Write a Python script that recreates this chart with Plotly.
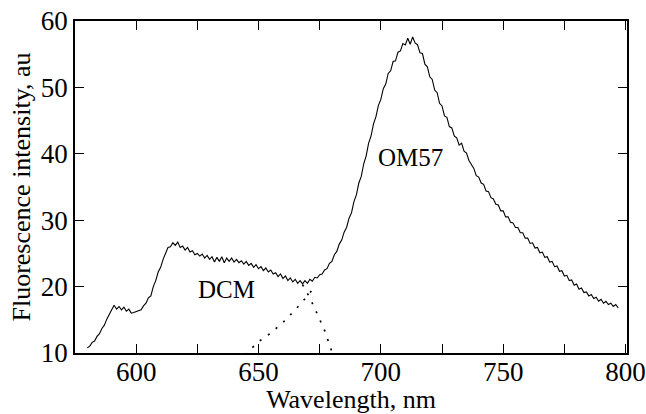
import plotly.graph_objects as go

wl_start = 580
intensity = [
    10.8, 11.0, 11.6, 11.8, 12.5, 12.9, 13.7, 14.2, 15.1, 15.7,   # 580-589
    16.5, 17.2, 16.6, 17.0, 16.5, 16.9, 16.3, 16.6, 16.0, 16.1,   # 590-599
    16.2, 16.4, 16.5, 17.1, 17.5, 18.3, 18.6, 20.0, 20.9, 22.2,   # 600-609
    22.9, 24.1, 24.9, 25.9, 26.0, 26.6, 26.2, 26.7, 25.9, 26.1,   # 610-619
    25.5, 25.9, 25.2, 25.4, 24.8, 25.0, 24.6, 24.9, 24.3, 24.7,   # 620-629
    24.1, 24.5, 23.7, 24.4, 23.8, 24.5, 23.6, 24.3, 23.8, 24.3,   # 630-639
    23.7, 24.1, 23.6, 23.9, 23.4, 23.8, 23.2, 23.5, 22.9, 23.3,   # 640-649
    22.7, 23.0, 22.4, 22.8, 22.2, 22.5, 21.9, 22.1, 21.5, 21.9,   # 650-659
    21.2, 21.6, 20.9, 21.3, 20.7, 21.1, 20.5, 20.9, 20.4, 20.9,   # 660-669
    20.5, 21.1, 20.8, 21.4, 21.3, 21.8, 21.9, 22.5, 22.7, 23.5,   # 670-679
    23.8, 24.8, 25.3, 26.4, 27.0, 28.2, 28.9, 30.3, 31.1, 32.8,   # 680-689
    33.8, 35.6, 36.6, 38.5, 39.7, 41.6, 42.7, 44.5, 45.6, 47.3,   # 690-699
    48.2, 49.8, 50.5, 52.1, 52.5, 53.9, 54.0, 55.3, 55.5, 56.6,   # 700-709
    56.4, 57.4, 56.5, 57.6, 56.7, 56.4, 55.2, 55.1, 53.5, 53.1,   # 710-719
    51.6, 51.2, 49.6, 49.2, 47.6, 47.2, 45.7, 45.5, 44.1, 43.9,   # 720-729
    42.7, 42.4, 41.3, 41.6, 40.4, 40.1, 39.0, 38.4, 37.8, 36.7,   # 730-739
    36.5, 35.6, 35.4, 34.4, 34.3, 33.4, 33.2, 32.4, 32.3, 31.4,   # 740-749
    31.4, 30.5, 30.5, 29.7, 29.6, 28.9, 28.9, 28.1, 28.1, 27.3,   # 750-759
    27.3, 26.5, 26.6, 25.8, 25.9, 25.1, 25.2, 24.4, 24.5, 23.7,   # 760-769
    23.8, 23.0, 23.1, 22.3, 22.4, 21.6, 21.7, 20.9, 21.0, 20.2,   # 770-779
    20.4, 19.6, 19.8, 19.1, 19.2, 18.6, 18.8, 18.2, 18.4, 17.8,   # 780-789
    18.1, 17.5, 17.8, 17.3, 17.5, 17.0, 17.3, 16.8,               # 790-797
]
wavelength = [wl_start + i for i in range(len(intensity))]

dcm_tail_x = [668, 671, 674, 677, 680, 683]
dcm_tail_y = [20.3, 18.3, 15.9, 13.4, 10.2, 7.0]
om_tail_x = [642, 646, 650, 655, 660, 665, 670, 673]
om_tail_y = [8.6, 10.3, 11.7, 13.0, 14.6, 16.5, 18.6, 20.0]

x_tickvals = [575, 600, 625, 650, 675, 700, 725, 750, 775, 800]
x_ticktext = ["", "600", "", "650", "", "700", "", "750", "", "800"]
y_ticks = [10, 20, 30, 40, 50, 60]

FONT = "Liberation Serif"

fig = go.Figure()
fig.add_trace(go.Scatter(x=wavelength, y=intensity, mode="lines",
                         line=dict(color="black", width=1.1), showlegend=False))
fig.add_trace(go.Scatter(x=dcm_tail_x, y=dcm_tail_y, mode="lines",
                         line=dict(color="black", width=1.7, dash="2px,8px"), showlegend=False))
fig.add_trace(go.Scatter(x=om_tail_x, y=om_tail_y, mode="lines",
                         line=dict(color="black", width=1.7, dash="2px,8px"), showlegend=False))

fig.add_annotation(x=637, y=19.5, text="DCM", showarrow=False,
                   font=dict(family=FONT, size=25, color="black"))
fig.add_annotation(x=712, y=39.5, text="OM57", showarrow=False,
                   font=dict(family=FONT, size=25, color="black"))

axis_common = dict(showline=True, linecolor="black", linewidth=1.5, mirror="ticks",
                   ticks="inside", ticklen=9, tickcolor="black", tickwidth=1.3,
                   showgrid=False, zeroline=False, automargin=False,
                   tickfont=dict(family=FONT, size=27, color="black"))

fig.update_xaxes(range=[575, 800.6], tickvals=x_tickvals, ticktext=x_ticktext,
                 ticklabelstandoff=-6,
                 title=dict(text="Wavelength, nm", font=dict(family=FONT, size=26, color="black"),
                            standoff=0),
                 **axis_common)
fig.update_yaxes(range=[10, 60], tickvals=y_ticks,
                 title=dict(text="Fluorescence intensity, au", font=dict(family=FONT, size=26, color="black"),
                            standoff=3),
                 **axis_common)

fig.update_layout(width=646, height=414, margin=dict(l=75, r=19, t=21, b=61),
                  plot_bgcolor="white", paper_bgcolor="white")

fig.write_html("out.html")
